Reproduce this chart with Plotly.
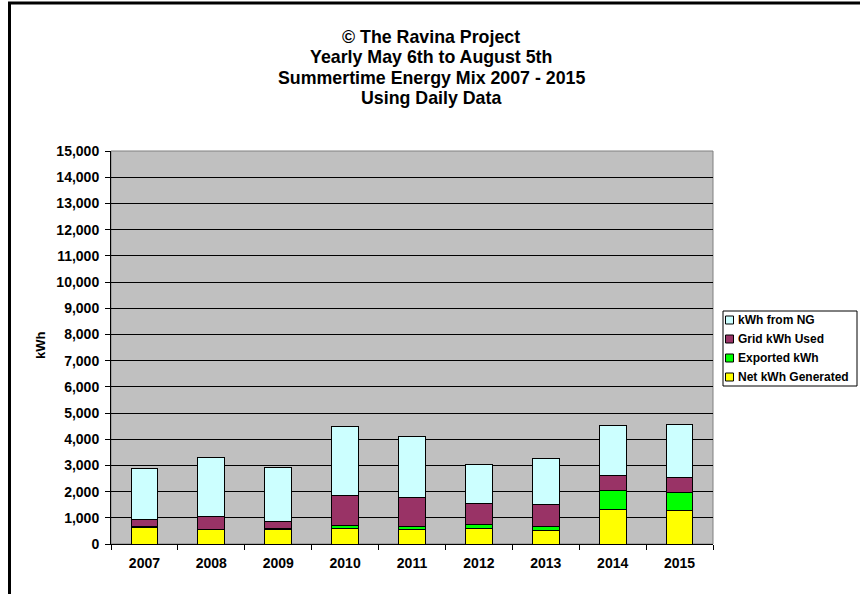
import plotly.graph_objects as go

years = ["2007", "2008", "2009", "2010", "2011", "2012", "2013", "2014", "2015"]
net_generated = [635, 546, 572, 584, 572, 597, 534, 1334, 1296]
exported = [30, 20, 15, 128, 89, 153, 152, 724, 686]
grid_used = [263, 489, 277, 1143, 1105, 813, 826, 547, 572]
from_ng = [1957, 2236, 2058, 2618, 2338, 1487, 1766, 1918, 2008]

series = [
    ("Net kWh Generated", net_generated, "#FFFF00"),
    ("Exported kWh", exported, "#00FF00"),
    ("Grid kWh Used", grid_used, "#993366"),
    ("kWh from NG", from_ng, "#CCFFFF"),
]
title_lines = ["© The Ravina Project", "Yearly May 6th to August 5th",
               "Summertime Energy Mix 2007 - 2015", "Using Daily Data"]

font_family = "Liberation Sans, Arial, sans-serif"

W, H = 860, 594
# plot area in screen coordinates
SL, SR, ST, SB = 111, 713, 151, 544
L, T = SL, ST
R = W - SR
B = H - SB
pw = W - L - R
ph = H - T - B


def px(xs):
    return (xs - SL) / pw


def py(ys):
    return (SB - ys) / ph


fig = go.Figure()
for name, vals, color in series:
    fig.add_trace(go.Bar(
        x=years, y=vals, name=name,
        marker=dict(color=color, line=dict(color="black", width=1)),
        hoverinfo="skip", showlegend=False,
    ))

fig.update_layout(
    width=W, height=H,
    barmode="stack",
    bargap=0.6,
    paper_bgcolor="white",
    plot_bgcolor="#C0C0C0",
    margin=dict(l=L, r=R, t=T, b=B, pad=0, autoexpand=False),
    font=dict(family=font_family, size=14, color="black"),
    showlegend=False,
    xaxis=dict(
        type="category",
        showgrid=False,
        showline=True, linecolor="black", linewidth=1,
        ticks="outside", tickson="boundaries", ticklen=5, tickcolor="black",
        tickfont=dict(size=14, family=font_family),
        tickprefix="<b>", ticksuffix="</b>",
        ticklabelstandoff=6,
    ),
    yaxis=dict(
        range=[0, 15000], dtick=1000, tickformat=",",
        showgrid=True, gridcolor="black", gridwidth=1,
        showline=True, linecolor="black", linewidth=1,
        ticks="outside", ticklen=5, tickcolor="black",
        tickfont=dict(size=14, family=font_family),
        tickprefix="<b>", ticksuffix="</b>",
        ticklabelstandoff=3,
        zeroline=False,
    ),
)

annotations = []
title_y = [37, 57.5, 78, 98.5]
for txt, yy in zip(title_lines, title_y):
    annotations.append(dict(
        text=f"<b>{txt}</b>", xref="paper", yref="paper",
        x=px(431), y=py(yy), xanchor="center", yanchor="middle",
        showarrow=False, font=dict(size=17.8, family=font_family),
    ))
annotations.append(dict(
    text="<b>kWh</b>", xref="paper", yref="paper",
    x=px(40), y=py(345), xanchor="center", yanchor="middle",
    textangle=-90, showarrow=False, font=dict(size=13, family=font_family),
))

shapes = []
shapes.append(dict(type="rect", xref="paper", yref="paper", x0=0, x1=1, y0=0, y1=1,
                   line=dict(color="#808080", width=1), layer="below"))
shapes.append(dict(type="rect", xref="paper", yref="paper",
                   x0=px(9.5), x1=px(880), y0=py(620), y1=py(3),
                   line=dict(color="black", width=3)))
shapes.append(dict(type="rect", xref="paper", yref="paper",
                   x0=px(723), x1=px(857), y0=py(386), y1=py(311),
                   line=dict(color="black", width=1), fillcolor="white"))
legend_y = [320, 339, 358, 377]
for (name, vals, color), yy in zip(reversed(series), legend_y):
    shapes.append(dict(type="rect", xref="paper", yref="paper",
                       x0=px(725.5), x1=px(733.5), y0=py(yy + 4), y1=py(yy - 4),
                       line=dict(color="black", width=1), fillcolor=color))
    annotations.append(dict(
        text=f"<b>{name}</b>", xref="paper", yref="paper",
        x=px(736), y=py(yy), xanchor="left", yanchor="middle",
        showarrow=False, font=dict(size=12, family=font_family),
    ))

fig.update_layout(annotations=annotations, shapes=shapes)

fig.write_html(
    "out.html",
    config={"displayModeBar": False},
    post_script="document.body.style.margin='0';document.body.style.overflow='hidden';",
)
